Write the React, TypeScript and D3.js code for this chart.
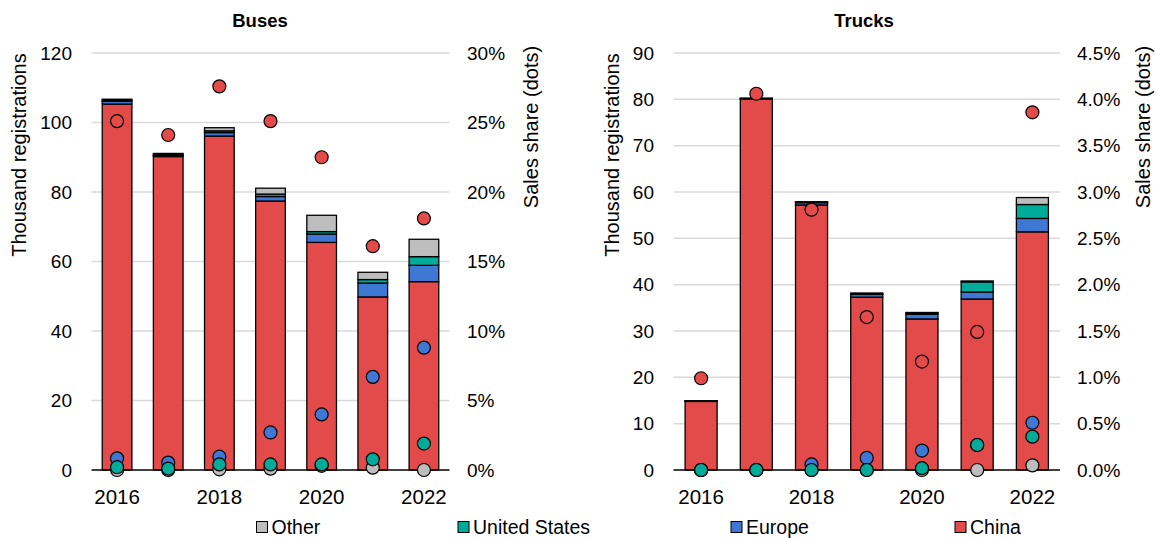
import React from 'react';
import * as d3 from 'd3';

const years = ['2016', '2017', '2018', '2019', '2020', '2021', '2022'];
const yearLabels = ['2016', '2018', '2020', '2022'];
const seriesNames = ['China', 'Europe', 'United States', 'Other'];
const legendNames = ['Other', 'United States', 'Europe', 'China'];

// Buses: thousand registrations
const busChina = [105.3, 90.2, 96.1, 77.4, 65.5, 49.8, 54.2];
const busEurope = [0.8, 0.3, 1.0, 1.3, 2.4, 4.0, 4.7];
const busUS = [0.3, 0.3, 0.5, 0.7, 0.7, 1.0, 2.5];
const busOther = [0.3, 0.3, 0.9, 1.7, 4.7, 2.1, 5.0];
// Buses: sales share (%)
const busShareChina = [25.1, 24.1, 27.6, 25.1, 22.5, 16.1, 18.1];
const busShareEurope = [0.84, 0.53, 0.96, 2.7, 4.0, 6.7, 8.8];
const busShareUS = [0.2, 0.1, 0.4, 0.4, 0.4, 0.77, 1.9];
const busShareOther = [0.0, 0.0, 0.05, 0.1, 0.3, 0.17, 0.0];

// Trucks: thousand registrations
const truckChina = [14.8, 80.1, 57.2, 37.3, 32.6, 36.9, 51.4];
const truckEurope = [0.05, 0.05, 0.5, 0.6, 1.0, 1.5, 2.9];
const truckUS = [0.05, 0.05, 0.1, 0.1, 0.3, 2.2, 3.0];
const truckOther = [0.05, 0.05, 0.1, 0.2, 0.1, 0.2, 1.5];
// Trucks: sales share (%)
const truckShareChina = [0.99, 4.06, 2.81, 1.65, 1.17, 1.49, 3.86];
const truckShareEurope = [0.0, 0.0, 0.06, 0.13, 0.21, 0.27, 0.51];
const truckShareUS = [0.0, 0.0, 0.0, 0.0, 0.02, 0.27, 0.36];
const truckShareOther = [0.0, 0.0, 0.0, 0.0, 0.0, 0.0, 0.05];

const busTicks = [0, 20, 40, 60, 80, 100, 120];
const busShareTicks = [0, 5, 10, 15, 20, 25, 30];
const truckTicks = [0, 10, 20, 30, 40, 50, 60, 70, 80, 90];
const truckShareTicks = [0, 0.5, 1, 1.5, 2, 2.5, 3, 3.5, 4, 4.5];

const colors: Record<string, string> = {
  China: '#e34b4a',
  Europe: '#3e78d4',
  'United States': '#00ab9a',
  Other: '#bdbdbd',
};

const FONT = '"Liberation Sans", Arial, sans-serif';

interface PanelProps {
  title: string;
  titleX: number;
  x0: number;
  x1: number;
  stacks: number[][];
  shares: number[][];
  ticks: number[];
  shareTicks: number[];
  shareFmt: (v: number) => string;
  leftTitleX: number;
  rightTitleX: number;
  rightLabelX: number;
}

const Panel: React.FC<PanelProps> = (p) => {
  const top = 53;
  const bottom = 470;
  const x = d3.scaleBand().domain(years).range([p.x0, p.x1]).paddingInner(0.42).paddingOuter(0.21);
  const y = d3.scaleLinear().domain([0, d3.max(p.ticks)!]).range([bottom, top]);
  const y2 = d3.scaleLinear().domain([0, d3.max(p.shareTicks)!]).range([bottom, top]);

  const rows = years.map((yr, i) => {
    const r: Record<string, number | string> = { year: yr };
    seriesNames.forEach((s, k) => (r[s] = p.stacks[k][i]));
    return r;
  });
  const stacked = d3.stack<any>().keys(seriesNames)(rows);
  const dotOrder = ['Other', 'Europe', 'United States', 'China'];

  return (
    <g>
      <text x={p.titleX} y={27} textAnchor="middle" fontWeight="bold" fontSize={18.5}>
        {p.title}
      </text>
      {p.ticks.map((t) => (
        <g key={t}>
          {t > 0 && (
            <line x1={p.x0} x2={p.x1} y1={y(t)} y2={y(t)} stroke="#d9d9d9" strokeWidth={1.5} />
          )}
          <text x={p.x0 - 19.5} y={y(t)} dy="0.35em" textAnchor="end" fontSize={19}>
            {t}
          </text>
        </g>
      ))}
      {p.shareTicks.map((t) => (
        <text key={t} x={p.rightLabelX} y={y2(t)} dy="0.35em" fontSize={19}>
          {p.shareFmt(t)}
        </text>
      ))}
      {stacked.map((layer) =>
        layer.map((d, i) => (
          <rect
            key={layer.key + i}
            x={x(years[i])}
            width={x.bandwidth()}
            y={y(d[1])}
            height={Math.max(0, y(d[0]) - y(d[1]))}
            fill={colors[layer.key]}
            stroke="#000"
            strokeWidth={1.3}
          />
        ))
      )}
      <line x1={p.x0} x2={p.x1} y1={bottom} y2={bottom} stroke="#000" strokeWidth={1.5} />
      {dotOrder.map((s) => {
        const k = seriesNames.indexOf(s);
        return p.shares[k].map((v, i) => (
          <circle
            key={s + i}
            cx={x(years[i])! + x.bandwidth() / 2}
            cy={y2(v)}
            r={6.5}
            fill={colors[s]}
            stroke="#000"
            strokeWidth={1.2}
          />
        ));
      })}
      {yearLabels.map((yr) => (
        <text key={yr} x={x(yr)! + x.bandwidth() / 2} y={504} textAnchor="middle" fontSize={20.5}>
          {yr}
        </text>
      ))}
      <text
        transform={`translate(${p.leftTitleX},155) rotate(-90)`}
        textAnchor="middle"
        dy="0.35em"
        fontSize={20}
      >
        Thousand registrations
      </text>
      <text
        transform={`translate(${p.rightTitleX},127) rotate(-90)`}
        textAnchor="middle"
        dy="0.35em"
        fontSize={20}
      >
        Sales share (dots)
      </text>
    </g>
  );
};

const legendX = [256.5, 458, 731, 955];

export default function App() {
  return (
    <svg
      width={1156}
      height={538}
      style={{ position: 'absolute', left: 0, top: 0, background: '#fff' }}
      fontFamily={FONT}
      fill="#000"
    >
      <Panel
        title="Buses"
        titleX={260}
        x0={91.5}
        x1={449.5}
        stacks={[busChina, busEurope, busUS, busOther]}
        shares={[busShareChina, busShareEurope, busShareUS, busShareOther]}
        ticks={busTicks}
        shareTicks={busShareTicks}
        shareFmt={(v) => `${v}%`}
        leftTitleX={19}
        rightTitleX={531}
        rightLabelX={467}
      />
      <Panel
        title="Trucks"
        titleX={864}
        x0={673.5}
        x1={1060}
        stacks={[truckChina, truckEurope, truckUS, truckOther]}
        shares={[truckShareChina, truckShareEurope, truckShareUS, truckShareOther]}
        ticks={truckTicks}
        shareTicks={truckShareTicks}
        shareFmt={(v) => `${v.toFixed(1)}%`}
        leftTitleX={612}
        rightTitleX={1143}
        rightLabelX={1077}
      />
      {legendNames.map((n, i) => (
        <g key={n} transform={`translate(${legendX[i]},527)`}>
          <rect x={0} y={-5.5} width={11} height={11} fill={colors[n]} stroke="#000" strokeWidth={1} />
          <text x={15} y={0} dy="0.35em" fontSize={19.5}>
            {n}
          </text>
        </g>
      ))}
    </svg>
  );
}
